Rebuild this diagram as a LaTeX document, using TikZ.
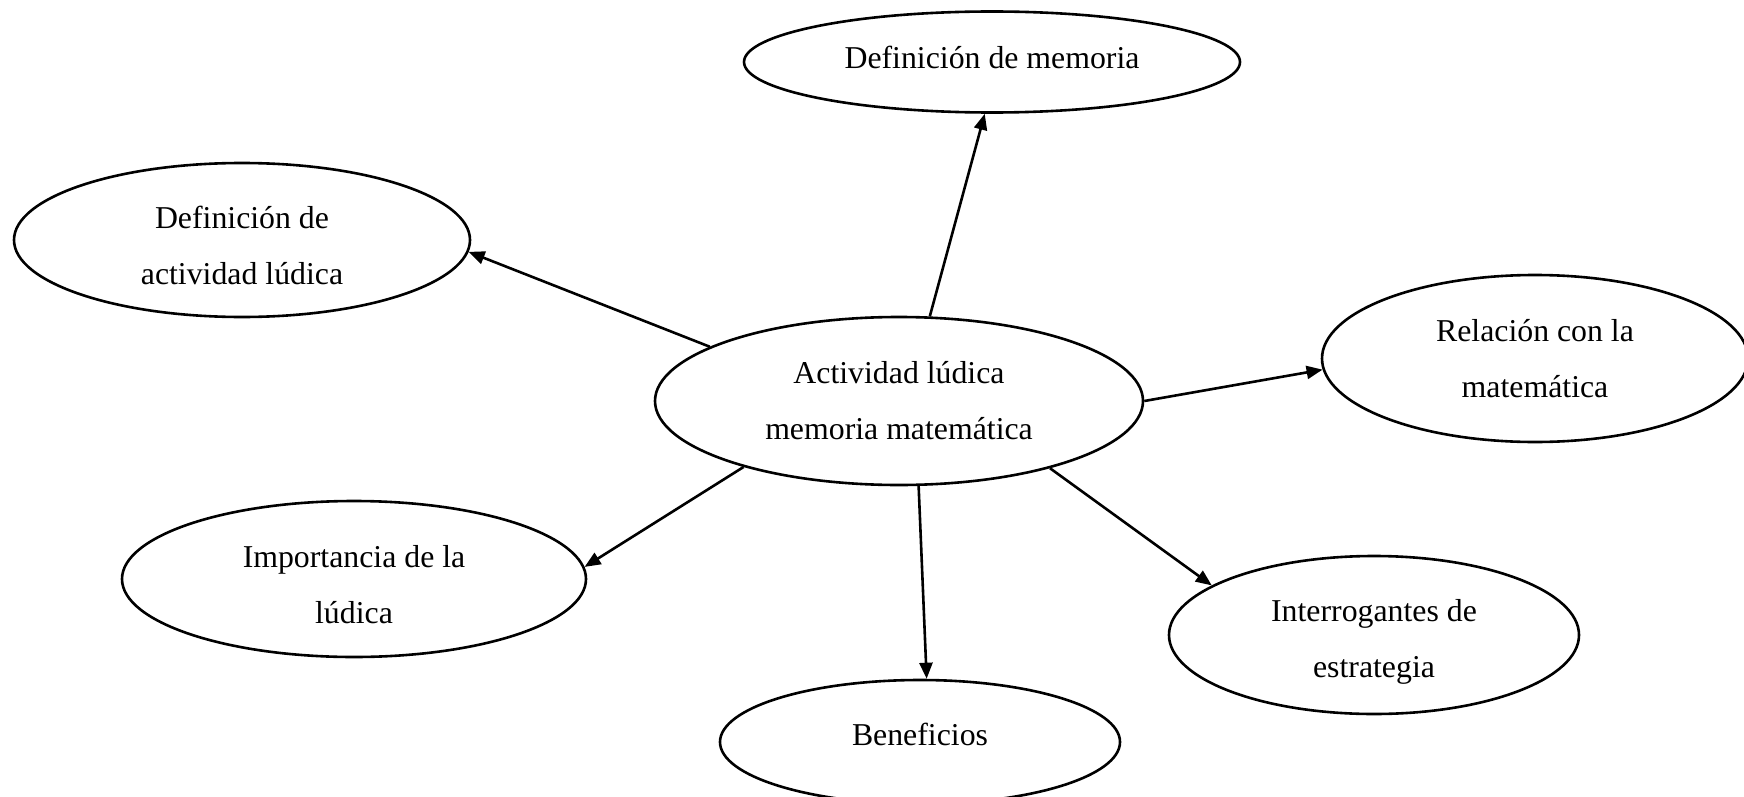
\documentclass[tikz,border=0pt]{standalone}
\usepackage{fontspec}
\setmainfont{Liberation Serif}
\usetikzlibrary{shapes.geometric,arrows.meta}
\newcommand{\upstrut}[1]{\rule{0pt}{#1}}
\newcommand{\dnstrut}[1]{\rule[-#1]{0pt}{0pt}}
\begin{document}
\begin{tikzpicture}[x=0.5pt,y=-0.5pt,
  bubble/.style={draw,ellipse,line width=1.3pt,inner sep=0pt,align=center,
    font=\fontsize{15.9}{28}\selectfont},
  link/.style={line width=1.3pt,-{Triangle[length=8pt,width=6.5pt]}}]
\useasboundingbox (0,0) rectangle (1744,797);
\node[bubble,minimum width=248pt,minimum height=50.5pt] (DM) at (992,62) {Definición de memoria\dnstrut{4.4pt}};
\node[bubble,minimum width=228pt,minimum height=77pt] (DA) at (242,240) {\upstrut{17pt}Definición de\\actividad lúdica};
\node[bubble,minimum width=244pt,minimum height=84pt] (C) at (899,401) {Actividad lúdica\\memoria matemática};
\node[bubble,minimum width=213pt,minimum height=83.5pt] (R) at (1535,358.5) {Relación con la\\matemática};
\node[bubble,minimum width=232pt,minimum height=78pt] (I) at (354,579) {\upstrut{16.5pt}Importancia de la\\lúdica};
\node[bubble,minimum width=205pt,minimum height=79pt] (Q) at (1374,635) {\upstrut{17.5pt}Interrogantes de\\estrategia};
\node[bubble,minimum width=200pt,minimum height=62pt] (B) at (920,742) {Beneficios\dnstrut{7.8pt}};
\draw[link] (C.70) -- (DM.262);
\draw[link] (C.164) -- (DA.-3.6);
\draw[link] (C.0) -- (R.183);
\draw[link] (C.203) -- (I.3.7);
\draw[link] (C.283) -- (B.84);
\draw[link] (C.336) -- (Q.163);
\end{tikzpicture}
\end{document}
